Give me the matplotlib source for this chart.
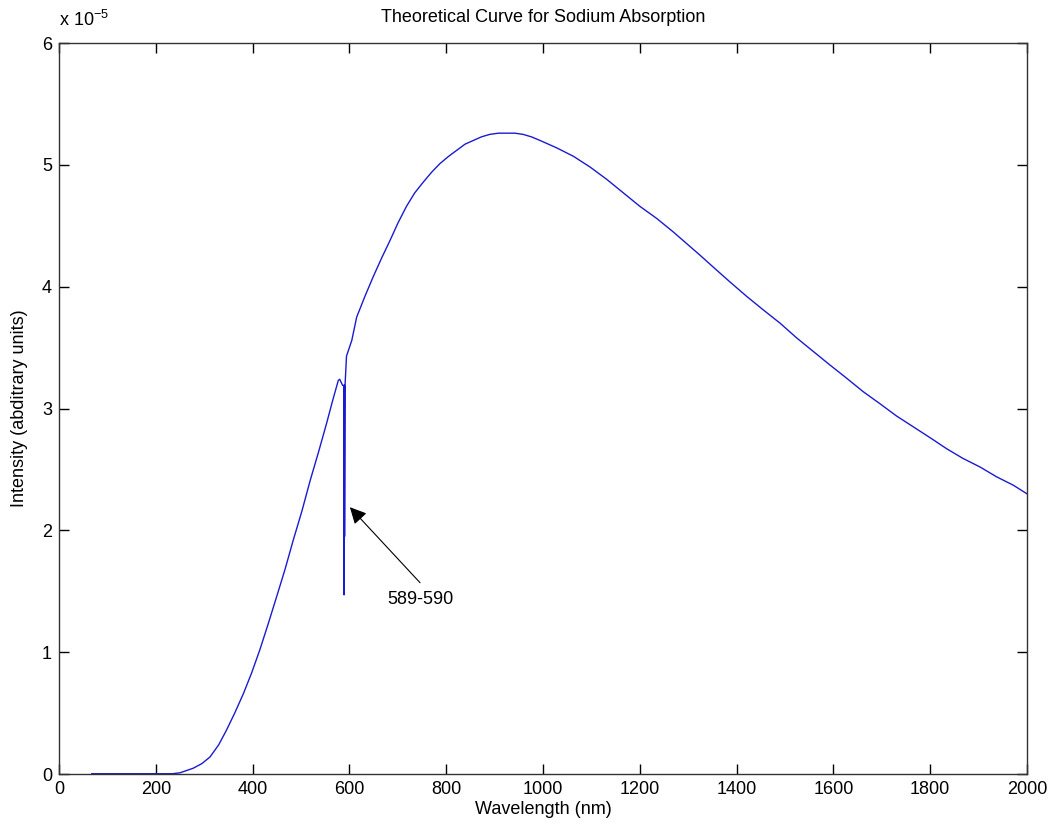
import matplotlib.pyplot as plt
import numpy as np

plt.rcParams['font.family'] = ['Liberation Sans', 'DejaVu Sans']

# wavelength (nm) and intensity (units of 1e-5)
wavelength = [68, 120, 180, 229, 250, 277, 295, 312, 330, 346, 363, 381, 398,
              415, 432, 450, 467, 484, 502, 519, 536, 553, 565, 577, 580, 586,
              589, 589, 589.5, 590, 590, 591, 594, 605, 615, 632, 649, 666,
              684, 700, 718, 735, 753, 770, 787, 805, 822, 839, 856, 873, 890,
              908, 925, 942, 959, 976, 994, 1028, 1063, 1098, 1132, 1166, 1200,
              1235, 1269, 1324, 1352, 1386, 1421, 1455, 1490, 1524, 1558, 1592,
              1627, 1661, 1696, 1730, 1765, 1800, 1834, 1868, 1903, 1937, 1972,
              2000]
intensity = [0.0, 0.0, 0.0, 0.0, 0.01, 0.047, 0.085, 0.14, 0.24, 0.36, 0.50,
             0.66, 0.83, 1.02, 1.23, 1.46, 1.68, 1.92, 2.16, 2.41, 2.64, 2.88,
             3.06, 3.23, 3.24, 3.19, 3.19, 1.47, 3.19, 3.19, 1.95, 3.19, 3.43,
             3.56, 3.75, 3.92, 4.08, 4.23, 4.38, 4.52, 4.66, 4.77, 4.86, 4.94,
             5.01, 5.07, 5.12, 5.17, 5.20, 5.23, 5.25, 5.26, 5.26, 5.26, 5.25,
             5.23, 5.20, 5.14, 5.07, 4.98, 4.88, 4.77, 4.66, 4.56, 4.45, 4.26,
             4.16, 4.04, 3.92, 3.81, 3.70, 3.58, 3.47, 3.36, 3.25, 3.14, 3.04,
             2.94, 2.85, 2.76, 2.67, 2.59, 2.52, 2.44, 2.37, 2.30]

x_ticks = [0, 200, 400, 600, 800, 1000, 1200, 1400, 1600, 1800, 2000]
y_ticks = [0, 1, 2, 3, 4, 5, 6]

fig = plt.figure(figsize=(10.52, 8.32), dpi=100)
ax = fig.add_axes([0.0561, 0.0697, 0.9201, 0.8786])

ax.plot(wavelength, intensity, color='#1a1ad0', lw=1.0)
# flat start is drawn heavier in the original
ax.plot(wavelength[:4], intensity[:4], color='#1a1ad0', lw=2.0)

ax.set_xlim(0, 2000)
ax.set_ylim(0, 6)
ax.set_xticks(x_ticks)
ax.set_yticks(y_ticks)
ax.tick_params(direction='in', top=True, right=True, length=7, width=1,
               labelsize=13, pad=5)
for s in ax.spines.values():
    s.set_linewidth(1)
    s.set_color('#333333')

ax.set_xlabel('Wavelength (nm)', fontsize=13, labelpad=2)
ax.set_ylabel('Intensity (abditrary units)', fontsize=13, labelpad=10)
ax.set_title('Theoretical Curve for Sodium Absorption', fontsize=13, pad=15)

# multiplier in the MATLAB style
ax.text(0.0, 1.018, r'x 10$^{\mathregular{-5}}$', transform=ax.transAxes,
        fontsize=13, ha='left', va='bottom')

# arrow pointing at the sodium lines
ax.annotate('', xy=(601, 2.19), xytext=(746, 1.57),
            arrowprops=dict(arrowstyle='-|>', color='k', lw=0.8,
                            mutation_scale=25, shrinkA=0, shrinkB=0))
ax.text(746, 1.50, '589-590', fontsize=13, ha='center', va='top')

plt.savefig('out.png', dpi=100)
